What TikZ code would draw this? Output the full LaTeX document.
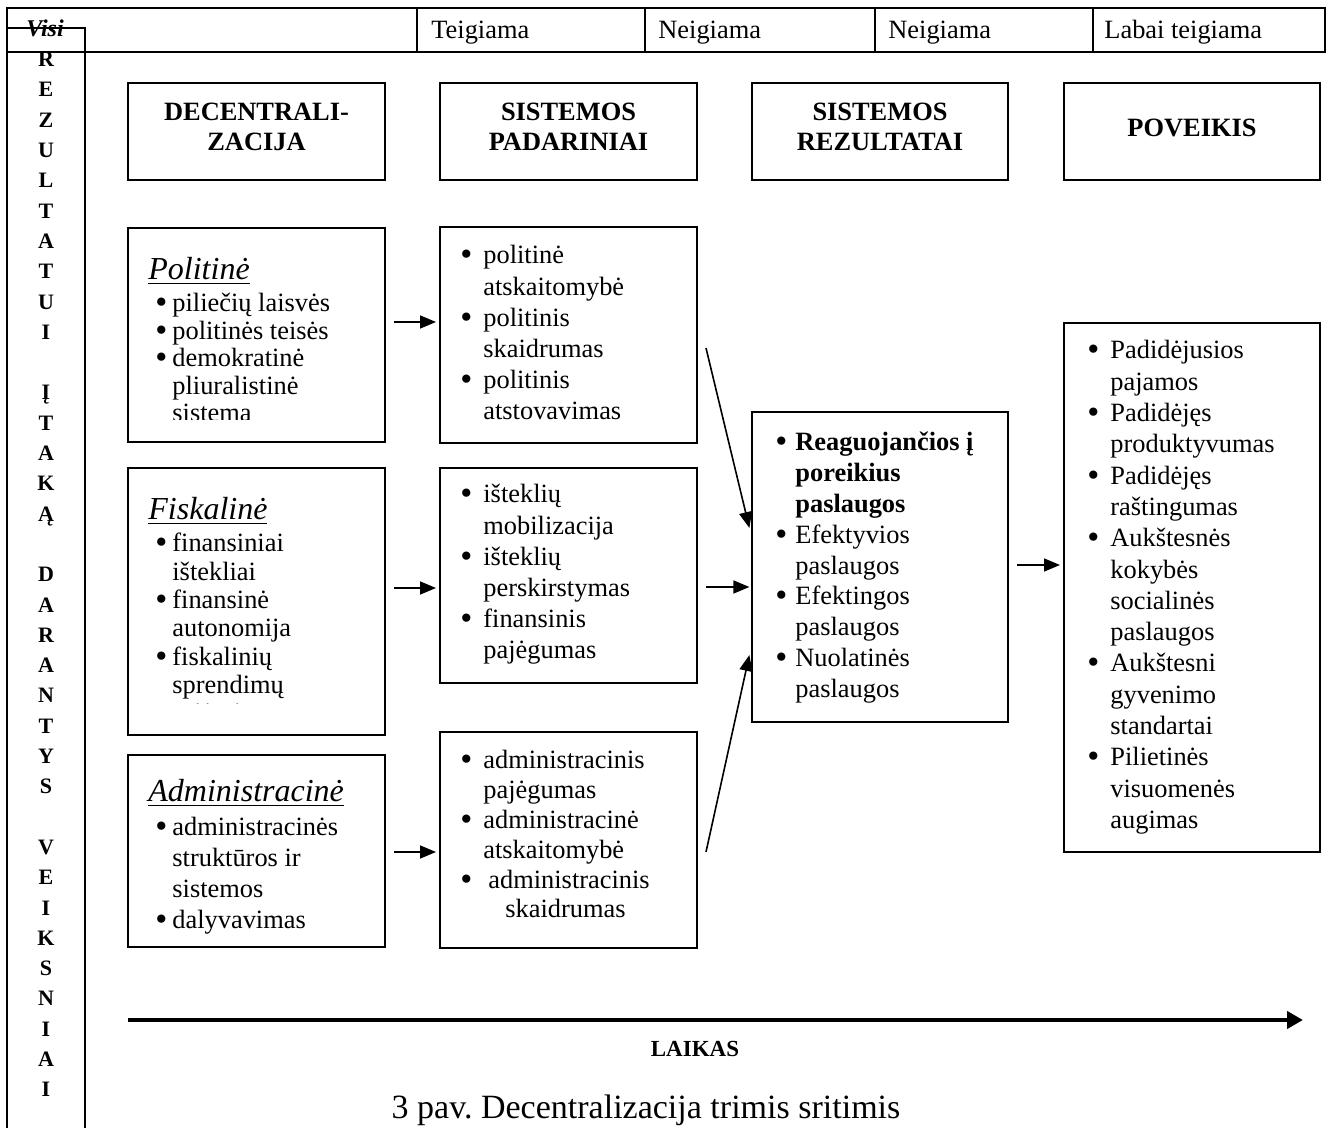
\documentclass[tikz,border=0pt]{standalone}
\usepackage{fontspec}
\setmainfont{Liberation Serif}
\usetikzlibrary{arrows.meta}
\newcommand\fsz[2]{\fontsize{#1}{#2}\selectfont}
\newcommand\bul[1]{\makebox[#1][l]{\raisebox{-0.07em}{\scalebox{1.3}{\textbullet}}}}
\begin{document}
\begin{tikzpicture}[x=0.5pt,y=-0.5pt,
  box/.style={draw, line width=1pt, inner sep=0pt, rectangle},
  arr/.style={-{Triangle[length=8pt,width=6.5pt]}, line width=0.8pt},
  txt/.style={inner sep=0pt, anchor=base west},
  hdt/.style={inner sep=0pt, anchor=base, font=\fsz{13.2}{15}\bfseries},
  colL/.style={inner sep=0pt, anchor=base, font=\fsz{11}{13}\bfseries},
  frame/.style={line width=1pt}]
\useasboundingbox (0,0) rectangle (1330,1128);

% top table
\draw[frame] (7,8) rectangle (1325,52);
\draw[frame] (417,8) -- (417,52) (645,8) -- (645,52) (875,8) -- (875,52) (1093,8) -- (1093,52);
\node[txt, font=\fsz{13.2}{15}] (c1) at (431,39) {Teigiama};
\node[txt, font=\fsz{13.2}{15}] (c2) at (658,39) {Neigiama};
\node[txt, font=\fsz{13.2}{15}] (c3) at (888,39) {Neigiama};
\node[txt, font=\fsz{13.2}{15}] (c4) at (1104,39) {Labai teigiama};

% left vertical column
\node[inner sep=0pt, anchor=base] (visi) at (45,37) {\fsz{12}{14}\bfseries\itshape Visi};
\draw[frame] (7,8) -- (7,1128);
\draw[frame] (7,28) -- (85,28) -- (85,1128);
\foreach \l [count=\i from 0] in {R,E,Z,U,L,T,A,T,U,I,{},Į,T,A,K,Ą,{},D,A,R,A,N,T,Y,S,{},V,E,I,K,S,N,I,A,I}
  {\node[colL] (L\i) at (46,{66.7+30.3*\i}) {\l};}

% header boxes
\node[box, minimum width=128.5pt, minimum height=48.5pt] (hd1) at (256.5,131.5) {};
\node[box, minimum width=128.5pt, minimum height=48.5pt] (hd2) at (568.5,131.5) {};
\node[box, minimum width=128pt, minimum height=48.5pt] (hd3) at (880,131.5) {};
\node[box, minimum width=128pt, minimum height=48.5pt] (hd4) at (1192,131.5) {};
\node[hdt] (hd1t) at (256.5,121) {\begin{tabular}[t]{@{}c@{}}DECENTRALI-\\ZACIJA\end{tabular}};
\node[hdt] (hd2t) at (568.5,121) {\begin{tabular}[t]{@{}c@{}}SISTEMOS\\PADARINIAI\end{tabular}};
\node[hdt] (hd3t) at (880,121) {\begin{tabular}[t]{@{}c@{}}SISTEMOS\\REZULTATAI\end{tabular}};
\node[hdt] (hd4t) at (1192,137) {POVEIKIS};

% row boxes
\node[box, minimum width=128.5pt, minimum height=107pt] (pl) at (256.5,335) {};
\node[box, minimum width=128.5pt, minimum height=108pt] (pm) at (568.5,335) {};
\node[box, minimum width=128.5pt, minimum height=133.5pt] (fl) at (256.5,601.5) {};
\node[box, minimum width=128.5pt, minimum height=107.5pt] (fm) at (568.5,575.5) {};
\node[box, minimum width=128.5pt, minimum height=96pt] (al) at (256.5,851) {};
\node[box, minimum width=128.5pt, minimum height=108pt] (am) at (568.5,840) {};
\node[box, minimum width=128pt, minimum height=155pt] (rz) at (880,567) {};
\node[box, minimum width=128pt, minimum height=264.5pt] (pv) at (1192,587.5) {};

% Politine
\node[txt] (plh) at (148,280) {\fsz{16}{18}\itshape\underline{Politinė}};
\begin{scope}
\clip (129,229) rectangle (384,420);
\node[txt] (plt) at (155,312) {\fsz{13.2}{13.75}\begin{tabular}[t]{@{}l@{}l@{}}\bul{8.5pt}&piliečių laisvės\\ \bul{8.5pt}&politinės teisės\\ \bul{8.5pt}&demokratinė\\ &pliuralistinė\\ &sistema\end{tabular}};
\end{scope}

% Fiskaline
\node[txt] (flh) at (148,520) {\fsz{16}{18}\itshape\underline{Fiskalinė}};
\begin{scope}
\clip (129,469) rectangle (384,704);
\node[txt] (flt) at (155,552) {\fsz{13.2}{14.15}\begin{tabular}[t]{@{}l@{}l@{}}\bul{8.5pt}&finansiniai\\ &ištekliai\\ \bul{8.5pt}&finansinė\\ &autonomija\\ \bul{8.5pt}&fiskalinių\\ &sprendimų\\ &priėmimas\end{tabular}};
\end{scope}

% Administracine
\node[txt] (alh) at (148,802) {\fsz{16}{18}\itshape\underline{Administracinė}};
\node[txt] (alt) at (155,836) {\fsz{13.2}{15.5}\begin{tabular}[t]{@{}l@{}l@{}}\bul{8.5pt}&administracinės\\ &struktūros ir\\ &sistemos\\ \bul{8.5pt}&dalyvavimas\end{tabular}};

% middle column
\node[txt] (pmt) at (460,264) {\fsz{13.2}{15.6}\begin{tabular}[t]{@{}l@{}l@{}}\bul{11.5pt}&politinė\\ &atskaitomybė\\ \bul{11.5pt}&politinis\\ &skaidrumas\\ \bul{11.5pt}&politinis\\ &atstovavimas\end{tabular}};
\node[txt] (fmt) at (460,503) {\fsz{13.2}{15.6}\begin{tabular}[t]{@{}l@{}l@{}}\bul{11.5pt}&išteklių\\ &mobilizacija\\ \bul{11.5pt}&išteklių\\ &perskirstymas\\ \bul{11.5pt}&finansinis\\ &pajėgumas\end{tabular}};
\node[txt] (amt) at (460,769) {\fsz{13.2}{14.9}\begin{tabular}[t]{@{}l@{}l@{}}\bul{11.5pt}&administracinis\\ &pajėgumas\\ \bul{11.5pt}&administracinė\\ &atskaitomybė\\ \bul{11.5pt}&\hspace{2.5pt}administracinis\\ &\hspace{11pt}skaidrumas\end{tabular}};

% rezultatai
\node[txt] (rzt) at (775,451) {\fsz{13.2}{15.4}\begin{tabular}[t]{@{}l@{}l@{}}\bul{10pt}&\textbf{Reaguojančios į}\\ &\textbf{poreikius}\\ &\textbf{paslaugos}\\ \bul{10pt}&Efektyvios\\ &paslaugos\\ \bul{10pt}&Efektingos\\ &paslaugos\\ \bul{10pt}&Nuolatinės\\ &paslaugos\end{tabular}};

% poveikis
\node[txt] (pvt) at (1087,359) {\fsz{13.2}{15.65}\begin{tabular}[t]{@{}l@{}l@{}}\bul{11.5pt}&Padidėjusios\\ &pajamos\\ \bul{11.5pt}&Padidėjęs\\ &produktyvumas\\ \bul{11.5pt}&Padidėjęs\\ &raštingumas\\ \bul{11.5pt}&Aukštesnės\\ &kokybės\\ &socialinės\\ &paslaugos\\ \bul{11.5pt}&Aukštesni\\ &gyvenimo\\ &standartai\\ \bul{11.5pt}&Pilietinės\\ &visuomenės\\ &augimas\end{tabular}};

% arrows
\draw[arr] ([shift={(4pt,6.5pt)}]pl.east) -- ([shift={(-1.5pt,6.5pt)}]pm.west);
\draw[arr] ([shift={(4pt,6.75pt)}]fl.east) -- ([shift={(-1.5pt,-6.25pt)}]fm.west);
\draw[arr] ([shift={(4pt,-0.5pt)}]al.east) -- ([shift={(-1.5pt,-6pt)}]am.west);
\draw[arr] ([shift={(4pt,-6.5pt)}]pm.east) -- ([shift={(-0.8pt,19.5pt)}]rz.west);
\draw[arr] ([shift={(4pt,-5.75pt)}]fm.east) -- ([shift={(-0.8pt,-10pt)}]rz.west);
\draw[arr] ([shift={(4pt,-6pt)}]am.east) -- ([shift={(-0.8pt,-44pt)}]rz.west);
\draw[arr] ([shift={(4pt,1pt)}]rz.east) -- ([shift={(-1.5pt,11.25pt)}]pv.west);

% time axis
\coordinate (t0) at (128,1020);
\coordinate (t1) at (1303,1020);
\draw[line width=2pt, -{Triangle[length=8pt,width=8.5pt]}] (t0) -- (t1);
\node[inner sep=0pt, anchor=base] (laikas) at (695,1057) {\fsz{11.5}{13}\bfseries LAIKAS};
\node[inner sep=0pt, anchor=base] (cap) at (646,1118) {\fsz{17}{19}3 pav.\ Decentralizacija trimis sritimis};
\end{tikzpicture}
\end{document}
